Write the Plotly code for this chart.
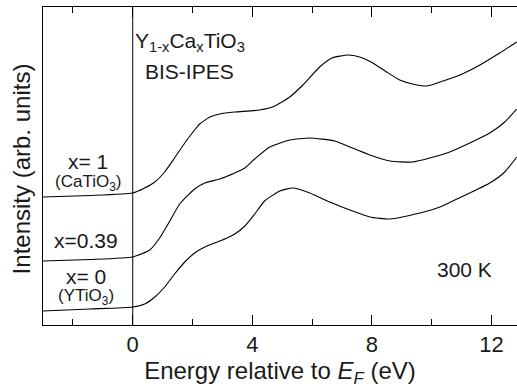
import plotly.graph_objects as go

# Energy (eV) and intensity (arb. units)
E_ca = [-3.0, -1.44, 0.0, 0.40, 0.74, 1.07, 1.40, 1.74, 2.07, 2.24, 2.58, 2.91, 3.41, 4.25, 4.75,
        5.25, 5.69, 6.25, 6.66, 7.19, 7.59, 8.03, 8.49, 8.93, 9.36, 9.83, 10.27, 10.94, 11.61, 12.27, 12.84]
I_ca = [128, 129.5, 132, 137, 143, 153, 167, 182, 195, 201, 208, 211, 213, 215, 219,
        228, 240, 258, 267, 270, 268, 262, 253, 245, 241, 239, 243, 250, 260, 272, 283]

E_039 = [-3.0, -1.44, 0.0, 0.57, 0.90, 1.24, 1.57, 2.07, 2.41, 2.91, 3.41, 3.75, 4.08, 4.58, 5.25,
         5.92, 6.76, 7.26, 7.93, 8.60, 9.36, 9.93, 10.60, 11.27, 11.94, 12.44, 12.84]
I_039 = [64, 65.5, 68, 75, 87, 104, 121, 136, 142, 146, 152, 157, 166, 178, 185,
         187, 184, 178, 170, 164, 163, 167, 173, 182, 192, 203, 216]

E_y = [-3.0, -1.44, 0.0, 0.40, 0.74, 1.07, 1.40, 1.74, 2.07, 2.41, 2.74, 3.08, 3.41, 3.75, 4.08,
       4.41, 4.92, 5.35, 5.92, 6.59, 7.26, 7.93, 8.60, 9.60, 10.27, 10.77, 11.27, 11.94, 12.44, 12.84]
I_y = [14, 16, 18, 21, 28, 38, 51, 63, 72, 78, 82, 86, 91, 99, 111,
       124, 134, 137, 132, 123, 115, 108, 106, 112, 118, 125, 132, 142, 153, 168]

x_ticks = [0, 4, 8, 12]
x_range = [-3.0, 12.85]
y_range = [0, 318]

FONT = "Liberation Sans, Arial, sans-serif"
TXT = "#1a1a1a"

fig = go.Figure()
for E, I, name in [(E_ca, I_ca, "x=1"), (E_039, I_039, "x=0.39"), (E_y, I_y, "x=0")]:
    fig.add_trace(go.Scatter(x=E, y=I, mode="lines", name=name,
                             line=dict(color="black", width=1.1, shape="spline", smoothing=0.5)))

fig.add_vline(x=0, line=dict(color="black", width=1))

ann = [
    dict(x=0.31, y=0.89, text="Y<sub>1-x</sub>Ca<sub>x</sub>TiO<sub>3</sub>", size=21),
    dict(x=0.31, y=0.796, text="BIS-IPES", size=21),
    dict(x=0.095, y=0.515, text="x= 1", size=21),
    dict(x=0.095, y=0.447, text="(CaTiO<sub>3</sub>)", size=17),
    dict(x=0.091, y=0.267, text="x=0.39", size=21),
    dict(x=0.091, y=0.151, text="x= 0", size=21),
    dict(x=0.091, y=0.088, text="(YTiO<sub>3</sub>)", size=17),
    dict(x=0.89, y=0.173, text="300 K", size=21),
]
for a in ann:
    fig.add_annotation(x=a["x"], y=a["y"], xref="paper", yref="paper", text=a["text"], showarrow=False,
                       font=dict(size=a["size"], color=TXT, family=FONT),
                       xanchor="center", yanchor="middle")

# y-axis title placed precisely
fig.add_annotation(x=-0.046, y=0.49, xref="paper", yref="paper", text="Intensity (arb. units)",
                   textangle=-90, showarrow=False, font=dict(size=24, color=TXT, family=FONT),
                   xanchor="center", yanchor="middle")

fig.update_layout(
    width=517, height=388, margin=dict(l=43, r=0, t=7, b=63),
    paper_bgcolor="white", plot_bgcolor="white", showlegend=False,
    font=dict(family=FONT, color=TXT),
    xaxis=dict(range=x_range, tickvals=x_ticks, ticks="inside", ticklen=10, tickcolor="black",
               showline=True, linecolor="black", linewidth=1, mirror="ticks", showgrid=False, zeroline=False,
               automargin=False, tickfont=dict(size=22, color=TXT),
               minor=dict(dtick=2, tick0=0, ticks="inside", ticklen=6, tickcolor="black", showgrid=False),
               title=dict(text="Energy relative to <i>E</i><sub><i>F</i></sub> (eV)",
                          font=dict(size=24, color=TXT), standoff=0)),
    yaxis=dict(range=y_range, showticklabels=False, ticks="", showline=True, linecolor="black", linewidth=1,
               showgrid=False, zeroline=False, automargin=False),
)

fig.write_html("out.html", config={"displayModeBar": False},
               post_script="document.body.style.margin='0';document.body.style.overflow='hidden';")
